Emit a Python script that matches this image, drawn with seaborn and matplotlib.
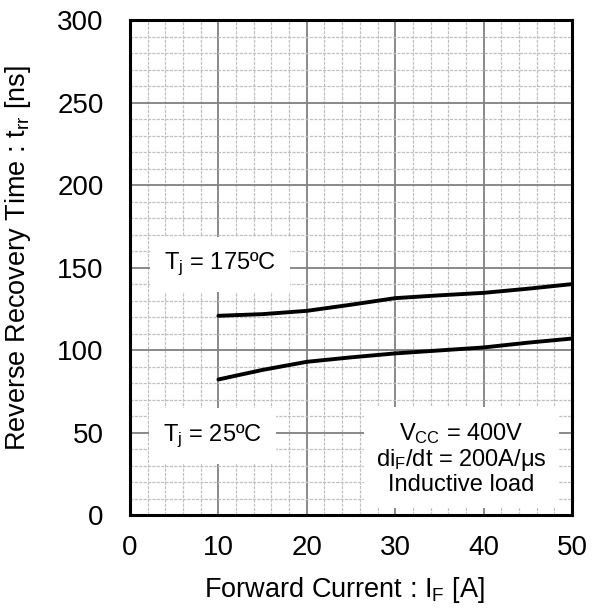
import numpy as np
import pandas as pd
import matplotlib
matplotlib.use("Agg")
import matplotlib.pyplot as plt
from matplotlib.ticker import MultipleLocator
import seaborn as sns

# values
current = [10, 15, 20, 25, 30, 35, 40, 45, 50]
trr_175 = [120.8, 121.8, 123.8, 127.5, 131.5, 133.2, 134.7, 137.2, 140.0]
trr_25 = [82.2, 88.0, 92.9, 95.6, 98.0, 99.8, 101.6, 104.5, 107.0]

df = pd.DataFrame({
    "If": current * 2,
    "trr": trr_175 + trr_25,
    "Tj": ["175"] * len(current) + ["25"] * len(current),
})

sns.set_style("white")
plt.rcParams['font.family'] = ['Liberation Sans', 'DejaVu Sans']
plt.rcParams['mathtext.default'] = 'regular'
plt.rcParams['text.color'] = 'black'
plt.rcParams['axes.labelcolor'] = 'black'
plt.rcParams['xtick.color'] = 'black'
plt.rcParams['ytick.color'] = 'black'

fig = plt.figure(figsize=(5.95, 6.11), dpi=100)
ax = fig.add_axes([0.2185, 0.157, 0.7428, 0.810])

sns.lineplot(data=df, x="If", y="trr", units="Tj", estimator=None,
             color="black", lw=2.8, ax=ax, legend=False)

ax.set_xlim(0, 50)
ax.set_ylim(0, 300)
ax.xaxis.set_major_locator(MultipleLocator(10))
ax.xaxis.set_minor_locator(MultipleLocator(2))
ax.yaxis.set_major_locator(MultipleLocator(50))
ax.yaxis.set_minor_locator(MultipleLocator(10))
ax.grid(which="major", color="#808080", lw=1.3, ls="-")
ax.grid(which="minor", color="#c0c0c0", lw=0.9, ls=(0, (2.5, 1)))
ax.set_axisbelow(True)
ax.tick_params(which="both", length=0, labelsize=20)
ax.tick_params(axis="x", pad=14)
ax.tick_params(axis="y", pad=19)
for s in ax.spines.values():
    s.set_color("black")
    s.set_linewidth(2.2)

ax.set_xlabel("Forward Current : I$_F$ [A]", fontsize=19.5)
ax.set_ylabel("Reverse Recovery Time : t$_{rr}$ [ns]", fontsize=19.5)
ax.xaxis.set_label_coords(0.486, -0.122)
ax.yaxis.set_label_coords(-0.219, 0.52)

box = dict(facecolor="white", edgecolor="none", pad=10)
ax.text(10.2, 152, "T$_j$ = 175ºC", fontsize=17, ha="center", va="center", bbox=box)
ax.text(9.3, 48, "T$_j$ = 25ºC", fontsize=17, ha="center", va="center", bbox=box)
ax.text(37.5, 34.5, "V$_{CC}$ = 400V\ndi$_F$/dt = 200A/μs\nInductive load",
        fontsize=17, ha="center", va="center", linespacing=1.05,
        bbox=dict(facecolor="white", edgecolor="none", pad=9))

fig.savefig("out.png", dpi=100)
